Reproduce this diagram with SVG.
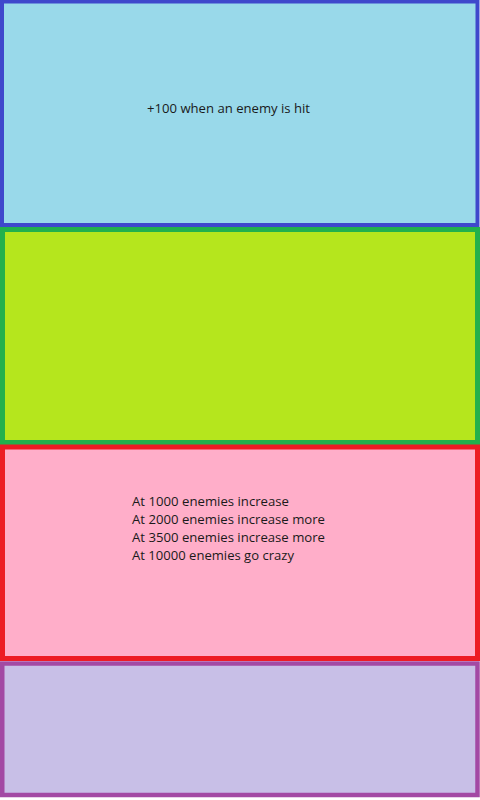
<svg xmlns="http://www.w3.org/2000/svg" width="480" height="800" viewBox="0 0 480 800">
<style>
.t{font-family:"Open Sans","Liberation Sans",sans-serif;font-size:13px;fill:#1a1a1a}
</style>
<rect x="0" y="0" width="480" height="800" fill="#ffffff"/>
<g id="box1">
<rect x="2" y="1.5" width="475.5" height="223.5" fill="#99d9ea" stroke="#3f48cc" stroke-width="4"/>
<text class="t" x="147" y="113" textLength="163" lengthAdjust="spacingAndGlyphs">+100 when an enemy is hit</text>
</g>
<g id="box2">
<rect x="2.5" y="229.5" width="475" height="213" fill="#b5e61d" stroke="#22b14c" stroke-width="5"/>
</g>
<g id="box3">
<rect x="2.5" y="447" width="475" height="211.5" fill="#ffaec9" stroke="#ed1c24" stroke-width="5"/>
<text class="t" x="132" y="505.5" textLength="157" lengthAdjust="spacingAndGlyphs">At 1000 enemies increase</text>
<text class="t" x="132" y="523.5" textLength="193" lengthAdjust="spacingAndGlyphs">At 2000 enemies increase more</text>
<text class="t" x="132" y="541.5" textLength="193" lengthAdjust="spacingAndGlyphs">At 3500 enemies increase more</text>
<text class="t" x="132" y="559.5" textLength="162" lengthAdjust="spacingAndGlyphs">At 10000 enemies go crazy</text>
</g>
<g id="box4">
<rect x="2.25" y="663.5" width="475.25" height="131.5" fill="#c8bfe7" stroke="#a349a4" stroke-width="4.5"/>
</g>
<g id="connectors"></g>
</svg>
